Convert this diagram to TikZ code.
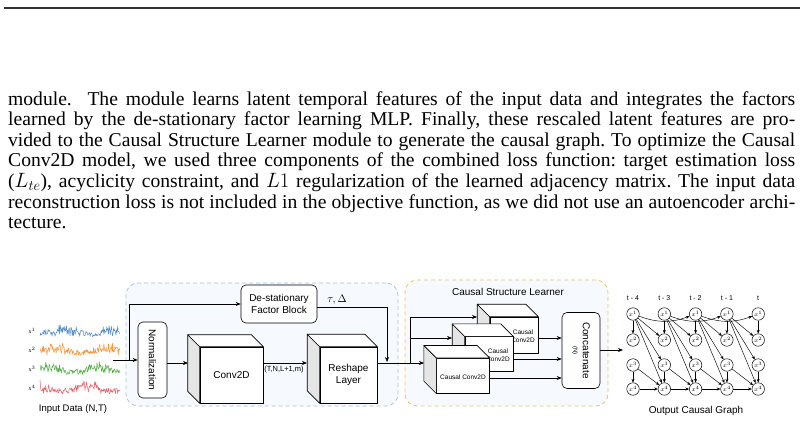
\documentclass[tikz,border=0pt]{standalone}
\usepackage{fontspec}
\usepackage{graphicx}
\setmainfont{Liberation Serif}
\setsansfont{Liberation Sans}
\usetikzlibrary{arrows.meta,calc,decorations.pathmorphing}
\definecolor{sigb}{HTML}{5B8FC9}
\definecolor{sigo}{HTML}{F5923A}
\definecolor{sigg}{HTML}{5AAB4E}
\definecolor{sigr}{HTML}{E0656A}
\definecolor{bgfill}{HTML}{F6F9FD}
\definecolor{wavec}{HTML}{B9CDEC}
\definecolor{bluedash}{HTML}{A9C0E6}
\definecolor{yellowdash}{HTML}{E6C46A}
\tikzset{
  arr/.style={-{Stealth[length=5pt,width=4pt]}, line width=0.6pt},
  lbl/.style={font=\sffamily\fontsize{10}{11.5}\selectfont, align=center},
  rbox/.style={draw, rounded corners=5pt, fill=white, line width=0.6pt, inner sep=0pt, lbl},
  face/.style={draw, fill=white, line width=0.6pt, inner sep=0pt, lbl},
  gnode/.style={circle, draw, minimum size=12.5pt, inner sep=0pt, fill=white, line width=0.5pt, font=\fontsize{6}{6}\selectfont},
  garr/.style={-{Stealth[length=3.6pt,width=3pt]}, line width=0.45pt},
  wave/.style={draw=wavec, line width=0.55pt, decorate, decoration={snake, segment length=7pt, amplitude=1.3pt}},
  modbox/.style={dashed, dash pattern=on 4pt off 3pt, rounded corners=12pt, line width=0.8pt, fill=bgfill, inner sep=0pt},
  para/.style={anchor=base west, inner sep=0pt, font=\fontsize{19.6}{20.6}\selectfont},
  small/.style={font=\sffamily\fontsize{6.5}{7.5}\selectfont, align=center, inner sep=0pt},
}
\newcommand\cubefaces[2]{%
  \filldraw[fill=gray!20, line width=0.6pt, line join=round] (#1.north west) -- ++(-#2,-#2) -- ($(#1.south west)+(-#2,-#2)$) -- (#1.south west) -- cycle;
  \filldraw[fill=white, line width=0.6pt, line join=round] (#1.north west) -- ++(-#2,-#2) -- ($(#1.north east)+(-#2,-#2)$) -- (#1.north east) -- cycle;}
\frenchspacing
\begin{document}
\begin{tikzpicture}[x=1pt,y=-1pt]
\useasboundingbox (0,0) rectangle (804,423);
\pgfmathsetseed{7}
% top rule
\draw[line width=1.5pt, black!80] (4,8) -- (800,8);
% paragraph
\node[para] (p1) at (8,105) {\makebox[787pt][s]{module.\ \ The module learns latent temporal features of the input data and integrates the factors}};
\node[para] (p2) at (8,125.6) {\makebox[787pt][s]{learned by the de-stationary factor learning MLP. Finally, these rescaled latent features are pro-}};
\node[para] (p3) at (8,146.2) {\makebox[787pt][s]{vided to the Causal Structure Learner module to generate the causal graph. To optimize the Causal}};
\node[para] (p4) at (8,166.8) {\makebox[787pt][s]{Conv2D model, we used three components of the combined loss function: target estimation loss}};
\node[para] (p5) at (8,187.4) {\makebox[787pt][s]{($L_{te}$), acyclicity constraint, and $L1$ regularization of the learned adjacency matrix. The input data}};
\node[para] (p6) at (8,208) {\makebox[787pt][s]{reconstruction loss is not included in the objective function, as we did not use an autoencoder archi-}};
\node[para] (p7) at (8,228.6) {tecture.};

% module boxes
\node[modbox, draw=bluedash, minimum width=272pt, minimum height=123pt,
  path picture={\foreach \k in {0,...,30} \draw[wave] (110,266+\k*8) -- ++(310,-95);}] (modA) at (262,344.5) {};
\node[modbox, draw=yellowdash, minimum width=203pt, minimum height=126pt,
  path picture={\foreach \k in {0,...,30} \draw[wave] (390,264+\k*8) -- ++(240,-74);}] (modB) at (506.5,343) {};
\node[lbl] (cslt) at (508,292) {Causal Structure Learner};

% input signals
\foreach \c/\col/\ph/\n in {331/sigb/0/1, 350/sigo/60/2, 369/sigg/120/3, 388/sigr/200/4} {
  \draw[\col, line width=0.5pt, line join=round] plot[samples=140, domain=40:120] (\x, {\c+6-6*rnd-4.5*rnd*(1+sin(\x*7+\ph))});
  \node[font=\fontsize{6}{6}\selectfont, inner sep=0pt] (xl\n) at (32,\c) {x$^{\n}$};
}
\node[lbl, font=\sffamily\fontsize{9.5}{10}\selectfont] (inlbl) at (73,409) {Input Data (N,T)};

% blocks in module A
\node[rbox, minimum width=29pt, minimum height=76pt] (norm) at (152.5,360) {\rotatebox{-90}{Normalization}};
\node[rbox, minimum width=76pt, minimum height=38pt] (dfb) at (279,304) {De-stationary\\Factor Block};
\node[face, minimum width=63pt, minimum height=56pt] (conv) at (231.5,375) {Conv2D};
\cubefaces{conv}{12}
\node[face, minimum width=57pt, minimum height=56pt] (resh) at (348.5,375) {Reshape\\Layer};
\cubefaces{resh}{12.5}

\coordinate (inp) at (113,360);
\coordinate (spl) at (129.5,360);
\draw[arr] (inp) -- (norm.west |- inp);
\draw[arr] (spl) -- (spl |- dfb.west) -- (dfb.west);
\draw[arr] (norm.east |- 0,363) -- (188,363);
\draw[arr] (conv.east |- 0,363) -- (307,363);
\node[inner sep=0pt, font=\sffamily\fontsize{7.5}{8}\selectfont] (shape) at (284,370) {(T,N,L+1,m)};
\node[inner sep=0pt, font=\fontsize{11}{12}\selectfont] (taud) at (337,300) {$\tau, \Delta$};
\coordinate (tcor) at (387,307);
\draw[arr] (dfb.east |- tcor) -- (tcor) -- (387,362);

% causal conv2d cuboids
\node[face, minimum width=48pt, minimum height=36pt] (cc1) at (514,335) {};
\cubefaces{cc1}{12.5}
\node[small] (cc1t) at (523,336) {Causal\\Conv2D};
\node[face, minimum width=48pt, minimum height=35pt] (cc2) at (489,354.2) {};
\cubefaces{cc2}{12.5}
\node[small] (cc2t) at (498,355) {Causal\\Conv2D};
\node[face, minimum width=52.6pt, minimum height=35pt] (cc3) at (463,375.8) {};
\cubefaces{cc3}{12.5}
\node[small] (cc3t) at (463,377) {Causal Conv2D};

\node[rbox, minimum width=38pt, minimum height=76pt] (cat) at (581,350.5) {\rotatebox{-90}{\shortstack{Concatenate\\[2pt]{\fontsize{6}{6}\selectfont (N)}}}};

\coordinate (spl2) at (410,363);
\draw[arr] (resh.east |- spl2) -- (424,363);
\draw[line width=0.6pt] (spl2) -- (410,317);
\draw[arr] (410,317) -- (477,317);
\draw[arr] (410,338) -- (452,338);
\draw[arr] (cc1.east |- 0,338) -- (cat.west |- 0,338);
\draw[arr] (cc2.east |- 0,359) -- (cat.west |- 0,359);
\draw[arr] (cc3.east |- 0,378) -- (cat.west |- 0,378);
\coordinate (gin) at (623,350);
\draw[arr] (cat.east |- gin) -- (gin);

% output causal graph
\foreach \j/\t in {0/t - 4, 1/t - 3, 2/t - 2, 3/t - 1, 4/t} {
  \node[font=\sffamily\fontsize{7}{8}\selectfont, inner sep=0pt] (tl\j) at (633+31.3*\j,298) {\t};
  \foreach \i/\yy in {1/314, 2/340, 3/365, 4/389} {
    \node[gnode] (n\i\j) at (633+31.3*\j,\yy) {$x^{\i}$};
  }
}
\foreach \j in {0,...,4} {
  \draw[garr] (n1\j) -- (n2\j);
  \draw[garr] (n3\j) -- (n4\j);
}
\foreach \j [evaluate=\j as \k using int(\j+1)] in {0,...,3} {
  \draw[garr] (n4\j) -- (n4\k);
  \draw[garr] (n3\j) -- (n4\k);
  \draw[garr] (n1\j) -- (n2\k);
  \draw[garr] (n1\j) -- (n3\k);
  \draw[garr] (n1\j) -- (n4\k);
}
\foreach \j [evaluate=\j as \k using int(\j+2)] in {0,...,2} {
  \draw[garr] (n1\j) to[out=-20, in=-160] (n1\k);
}
\node[lbl] (outlbl) at (696,411) {Output Causal Graph};
\end{tikzpicture}
\end{document}
